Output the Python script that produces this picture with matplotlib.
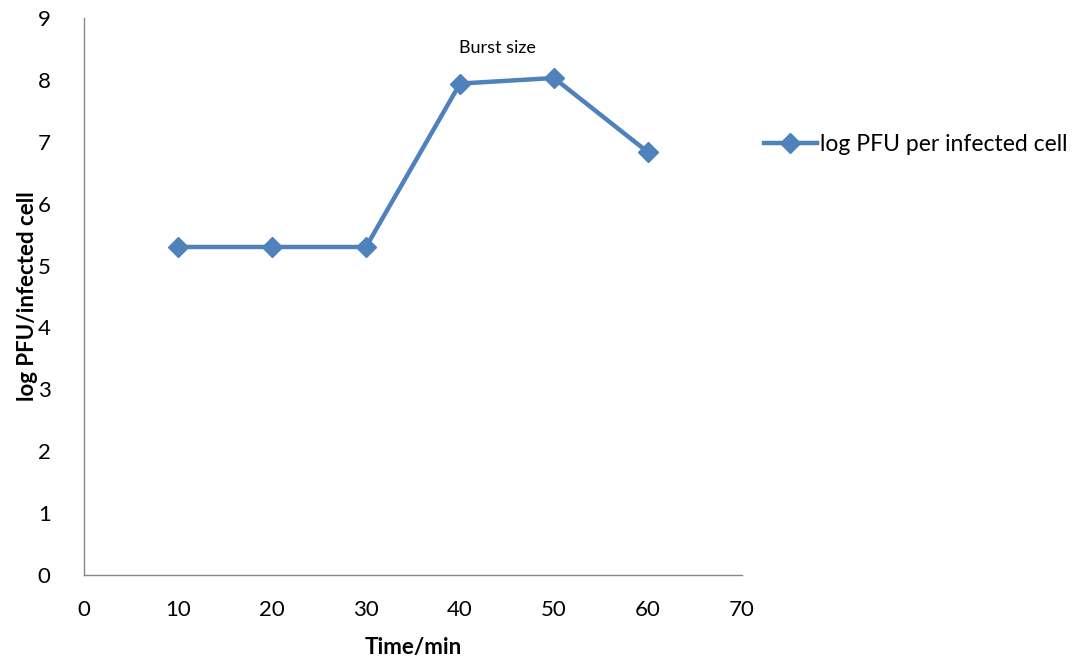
import matplotlib
matplotlib.use("Agg")
import matplotlib.pyplot as plt
from matplotlib.lines import Line2D

plt.rcParams['font.family'] = ['Lato', 'DejaVu Sans']

time_min = [10, 20, 30, 40, 50, 60]
log_pfu = [5.30, 5.30, 5.30, 7.94, 8.03, 6.83]
series_label = "log PFU per infected cell"
x_ticks = [0, 10, 20, 30, 40, 50, 60, 70]
y_ticks = [0, 1, 2, 3, 4, 5, 6, 7, 8, 9]

color = '#4F81BD'
axis_col = '#868686'

fig = plt.figure(figsize=(10.85, 6.65), dpi=100)
ax = fig.add_axes([0.0774, 0.1353, 0.6065, 0.8377])
ax.plot(time_min, log_pfu, color=color, lw=3.2, marker='D', markersize=10,
        markerfacecolor=color, markeredgecolor=color, label=series_label)
ax.set_xlim(0, 70)
ax.set_ylim(0, 9)
ax.set_xticks(x_ticks)
ax.set_yticks(y_ticks)
ax.tick_params(length=0, labelsize=16)
ax.tick_params(axis='x', pad=18)
ax.tick_params(axis='y', pad=24)
for s in ['top', 'right']:
    ax.spines[s].set_visible(False)
for s in ['left', 'bottom']:
    ax.spines[s].set_color(axis_col)
    ax.spines[s].set_linewidth(1)
ax.set_xlabel('Time/min', fontsize=16, fontweight='bold', labelpad=12)
ax.set_ylabel('log PFU/infected cell', fontsize=16, fontweight='bold', labelpad=0)
ax.text(44.0, 8.38, 'Burst size', fontsize=13, ha='center', va='bottom')

handle = Line2D([], [], color=color, lw=3.2, marker='D', markersize=10)
fig.legend([handle], [series_label], loc='center left',
           bbox_to_anchor=(0.685, 0.783), frameon=False, fontsize=16.5,
           handlelength=2.3, handletextpad=0.15)

fig.savefig('out.png', dpi=100)
